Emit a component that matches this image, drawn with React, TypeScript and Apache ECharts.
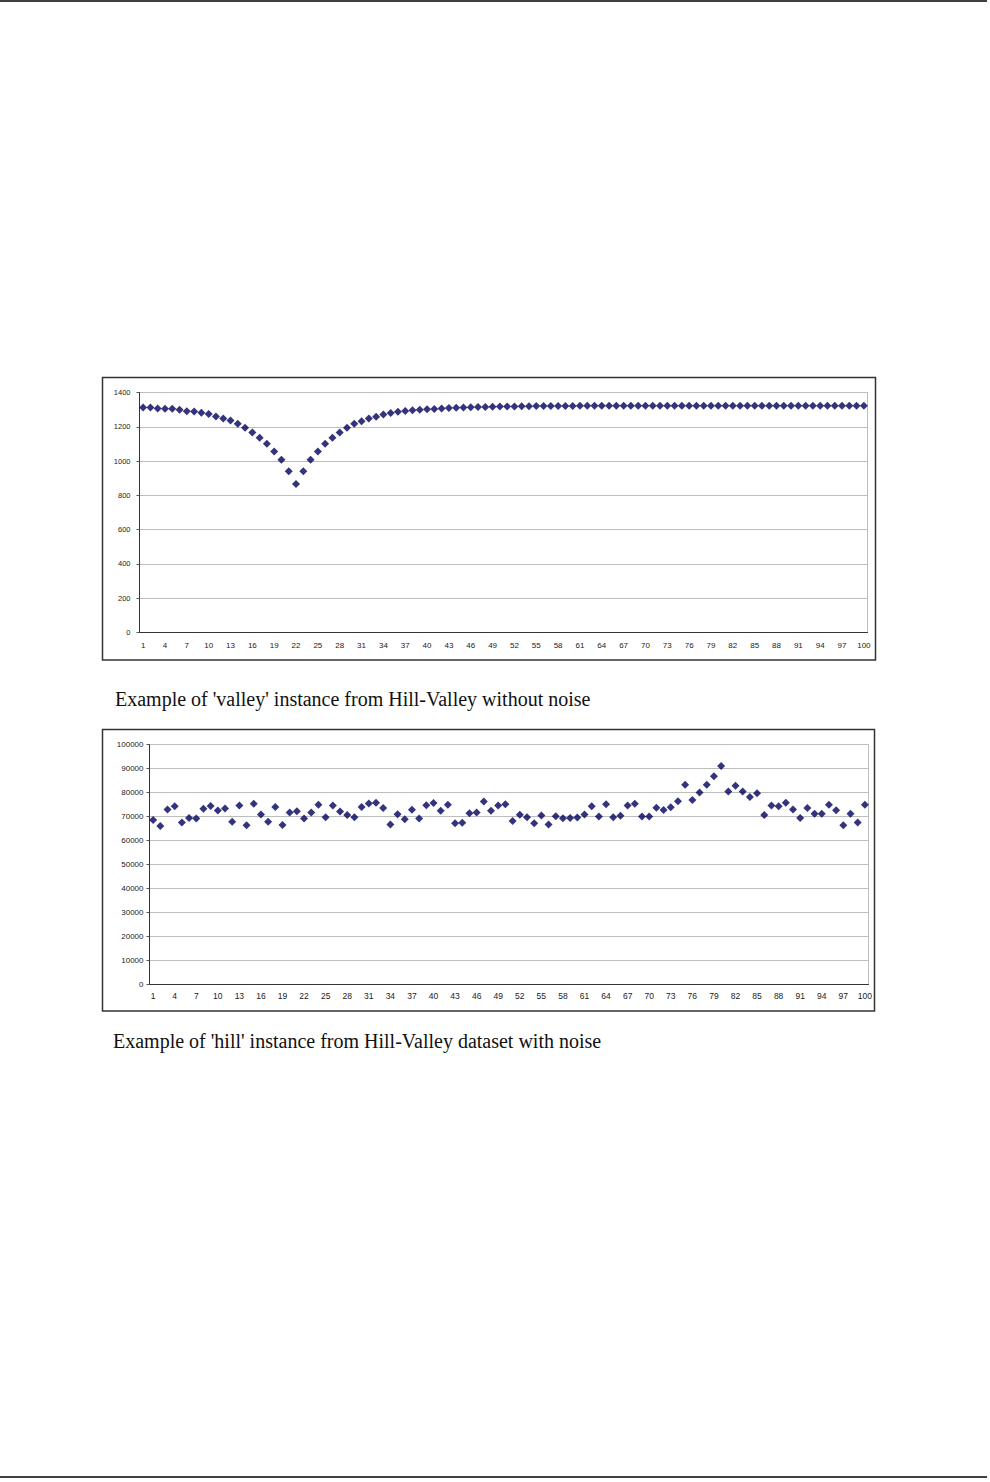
import React, { useEffect, useRef } from "react";
import * as echarts from "echarts";

const categories: string[] = [
  "1","2","3","4","5","6","7","8","9","10","11","12","13","14","15","16","17","18","19","20",
  "21","22","23","24","25","26","27","28","29","30","31","32","33","34","35","36","37","38","39","40",
  "41","42","43","44","45","46","47","48","49","50","51","52","53","54","55","56","57","58","59","60",
  "61","62","63","64","65","66","67","68","69","70","71","72","73","74","75","76","77","78","79","80",
  "81","82","83","84","85","86","87","88","89","90","91","92","93","94","95","96","97","98","99","100",
];

const valleyValues: number[] = [
  1313, 1313, 1307, 1305, 1305, 1299, 1291, 1289, 1282, 1274,
  1260, 1249, 1237, 1218, 1194, 1167, 1136, 1101, 1056, 1008,
  940, 866, 940, 1008, 1056, 1101, 1136, 1167, 1194, 1218,
  1233, 1249, 1258, 1272, 1280, 1287, 1292, 1296, 1299, 1302,
  1304, 1307, 1309, 1311, 1313, 1314, 1315, 1316, 1317, 1318,
  1319, 1319, 1320, 1320, 1321, 1321, 1321, 1321, 1321, 1321,
  1322, 1322, 1322, 1322, 1322, 1322, 1322, 1322, 1322, 1322,
  1322, 1322, 1322, 1322, 1322, 1322, 1322, 1322, 1322, 1322,
  1322, 1322, 1322, 1322, 1322, 1322, 1322, 1322, 1322, 1322,
  1322, 1322, 1322, 1322, 1322, 1322, 1322, 1322, 1322, 1322,
];

const hillValues: number[] = [
  68500, 66000, 72900, 74300, 67500, 69400, 69200, 73200, 74400, 72500,
  73300, 67800, 74600, 66400, 75300, 70800, 67800, 74000, 66500, 71700,
  72200, 69200, 71700, 74900, 69700, 74600, 72100, 70600, 69700, 74000,
  75400, 75700, 73500, 66700, 70900, 68900, 72800, 69200, 74700, 75600,
  72400, 74900, 67200, 67400, 71400, 71700, 76200, 72400, 74600, 75100,
  68100, 70700, 69700, 67200, 70400, 66700, 70100, 69300, 69400, 69600,
  70800, 74300, 70000, 75100, 69700, 70300, 74600, 75300, 70000, 70000,
  73600, 72700, 73900, 76400, 83200, 76900, 80000, 83200, 86800, 91000,
  80400, 82800, 80400, 78100, 79700, 70600, 74600, 74300, 75700, 72900,
  69400, 73500, 71100, 71100, 74900, 72600, 66400, 71100, 67500, 74900,
];

const valleyTicks = { min: 0, max: 1400, interval: 200 };
const hillTicks = { min: 0, max: 100000, interval: 10000 };

const captionTop = "Example of 'valley' instance from Hill-Valley without noise";
const captionBottom = "Example of 'hill' instance from Hill-Valley dataset with noise";

const labelFont = 'Arial, "Liberation Sans", sans-serif';
const serifFont = '"Times New Roman", "Liberation Serif", serif';

export default function App() {
  const ref = useRef<HTMLDivElement>(null);

  useEffect(() => {
    if (!ref.current) return;
    const chart = echarts.init(ref.current, null, { renderer: "svg" });

    const xAxisBase = (gridIndex: number, fontSize: number, margin: number) => ({
      type: "category" as const,
      gridIndex,
      data: categories,
      boundaryGap: true,
      axisLine: { lineStyle: { color: "#333", width: 1 } },
      axisTick: { interval: 0, length: 3, lineStyle: { color: "#555" } },
      axisLabel: {
        interval: 2,
        fontSize,
        margin,
        color: "#222",
        fontFamily: labelFont,
        hideOverlap: false,
      },
      splitLine: { show: false },
    });

    const yAxisBase = (gridIndex: number, t: any, fontSize: number, margin: number) => ({
      type: "value" as const,
      gridIndex,
      min: t.min,
      max: t.max,
      interval: t.interval,
      axisLine: { show: true, lineStyle: { color: "#333", width: 1 } },
      axisTick: { show: true, length: 3, lineStyle: { color: "#555" } },
      axisLabel: {
        fontSize,
        margin,
        color: "#222",
        fontFamily: labelFont,
        formatter: (v: number) => String(v),
      },
      splitLine: { show: true, lineStyle: { color: "#bdbdbd", width: 1 } },
    });

    chart.setOption({
      animation: false,
      backgroundColor: "#fff",
      grid: [
        {
          left: 139.5, top: 392.5, width: 728, height: 240,
          show: true, borderColor: "#bdbdbd", borderWidth: 1, backgroundColor: "transparent",
        },
        {
          left: 149.5, top: 744.5, width: 719, height: 240,
          show: true, borderColor: "#bdbdbd", borderWidth: 1, backgroundColor: "transparent",
        },
      ],
      xAxis: [xAxisBase(0, 8, 9), xAxisBase(1, 8.5, 7)],
      yAxis: [yAxisBase(0, valleyTicks, 7.5, 9), yAxisBase(1, hillTicks, 8, 6)],
      series: [
        {
          type: "scatter",
          xAxisIndex: 0,
          yAxisIndex: 0,
          data: valleyValues,
          symbol: "diamond",
          symbolSize: 8,
          itemStyle: { color: "#00005e" },
        },
        {
          type: "scatter",
          xAxisIndex: 1,
          yAxisIndex: 1,
          data: hillValues,
          symbol: "diamond",
          symbolSize: 8,
          itemStyle: { color: "#00005e" },
        },
      ],
      graphic: [
        { type: "line", shape: { x1: 0, y1: 1, x2: 987, y2: 1 }, style: { stroke: "#000", lineWidth: 1.5 } },
        { type: "line", shape: { x1: 0, y1: 1477, x2: 987, y2: 1477 }, style: { stroke: "#000", lineWidth: 1.5 } },
        {
          type: "rect",
          shape: { x: 102.5, y: 377.5, width: 773, height: 282.5 },
          style: { fill: "none", stroke: "#333", lineWidth: 1.5 },
        },
        {
          type: "rect",
          shape: { x: 102.5, y: 729.5, width: 772, height: 281.5 },
          style: { fill: "none", stroke: "#333", lineWidth: 1.5 },
        },
        {
          type: "text",
          x: 115,
          y: 699,
          style: {
            text: captionTop,
            font: `20px ${serifFont}`,
            fill: "#111",
            textVerticalAlign: "middle",
            verticalAlign: "middle",
          },
        },
        {
          type: "text",
          x: 113,
          y: 1041,
          style: {
            text: captionBottom,
            font: `20px ${serifFont}`,
            fill: "#111",
            textVerticalAlign: "middle",
            verticalAlign: "middle",
          },
        },
      ],
    });

    return () => chart.dispose();
  }, []);

  return (
    <div
      ref={ref}
      style={{ position: "absolute", left: 0, top: 0, width: 990, height: 1482, background: "#fff" }}
    />
  );
}
